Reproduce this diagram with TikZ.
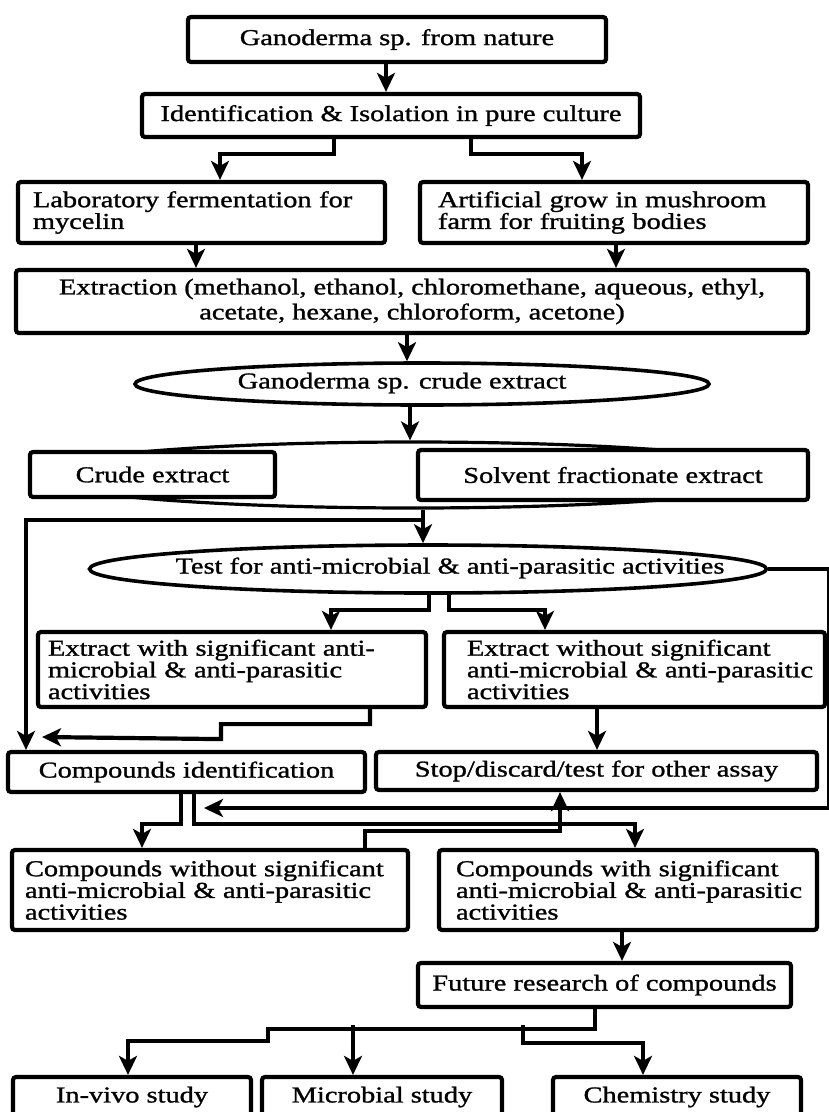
\documentclass[tikz,border=0pt]{standalone}
\usepackage{fontspec}
\setmainfont{Liberation Serif}[FakeStretch=1.25,FakeBold=1.2]
\usetikzlibrary{arrows.meta,shapes.geometric}
\begin{document}
\begin{tikzpicture}[x=1pt,y=-1pt,
  font=\fontsize{22.7}{21.7}\selectfont,
  box/.style={draw,line width=4.2pt,rounded corners=3pt,fill=white,inner sep=0pt},
  lbox/.style={box,align=left},
  ell/.style={draw,ellipse,line width=3.6pt,fill=white,inner sep=0pt},
  conn/.style={line width=4.2pt},
  arr/.style={conn,-{Stealth[length=19pt,width=18pt,inset=5pt]}},
]
\useasboundingbox (0,0) rectangle (829,1112);
\clip (0,0) rectangle (829,1112);
\fill[white] (0,0) rectangle (829,1112);

% nodes
\node[box,minimum width=418pt,minimum height=45pt] (n1) at (397,39.5) {Ganoderma sp. from nature};
\node[box,minimum width=498pt,minimum height=43pt] (n2) at (391,115.5) {Identification \& Isolation in pure culture};
\node[lbox,text width=337pt,inner xsep=15pt,minimum height=61pt] (n3) at (201.5,212.5) {\mbox{Laboratory fermentation for}\\mycelin};
\node[lbox,text width=352pt,inner xsep=18pt,minimum height=61pt] (n4) at (614,212.5) {\mbox{Artificial grow in mushroom}\\\mbox{farm for fruiting bodies}};
\node[box,minimum width=792pt,minimum height=63pt,align=center,font=\fontsize{22.7}{25}\selectfont] (n5) at (412,301.5) {\mbox{Extraction (methanol, ethanol, chloromethane, aqueous, ethyl,}\\\mbox{acetate, hexane, chloroform, acetone)}};

\node[ell,minimum width=574pt,minimum height=42pt] (e1) at (422,384) {};
\node (t1) at (402,383) {Ganoderma sp. crude extract};

\node[ell,line width=3.2pt,minimum width=760pt,minimum height=66pt] (e0) at (413,475) {};
\node[box,minimum width=245pt,minimum height=45pt] (n6) at (152.5,474.5) {Crude extract};
\node[box,minimum width=390pt,minimum height=50pt] (n7) at (613,475) {Solvent fractionate extract};

\node[ell,minimum width=677pt,minimum height=48pt] (e2) at (428,569) {};
\node (t2) at (450,568) {Test for anti-microbial \& anti-parasitic activities};

\node[lbox,text width=368pt,inner xsep=10pt,minimum height=75pt] (n8) at (232,669.5) {\mbox{Extract with significant anti-}\\\mbox{microbial \& anti-parasitic}\\activities};
\node[lbox,text width=335pt,inner xsep=23pt,minimum height=75pt] (n9) at (634.5,669.5) {\mbox{Extract without significant}\\\mbox{anti-microbial \& anti-parasitic}\\activities};

\node[box,minimum width=357pt,minimum height=40pt] (n10) at (186.5,772) {Compounds identification};
\node[box,minimum width=441pt,minimum height=38pt] (n11) at (596.5,771) {Stop/discard/test for other assay};

\node[lbox,text width=370pt,inner xsep=13pt,minimum height=80pt] (n12) at (210,890) {\mbox{Compounds without significant}\\\mbox{anti-microbial \& anti-parasitic}\\activities};
\node[lbox,text width=344pt,inner xsep=17pt,minimum height=80pt] (n13) at (628,890) {\mbox{Compounds with significant}\\\mbox{anti-microbial \& anti-parasitic}\\activities};

\node[box,minimum width=373pt,minimum height=44pt] (n14) at (604.5,985) {Future research of compounds};
\node[box,minimum width=238pt,minimum height=40pt] (n15) at (132,1097) {In-vivo study};
\node[box,minimum width=240pt,minimum height=40pt] (n16) at (382,1097) {Microbial study};
\node[box,minimum width=248pt,minimum height=40pt] (n17) at (677,1097) {Chemistry study};

\coordinate (tipL) at (42,737);
\coordinate (tipR) at (204,808);

% connectors
\draw[arr] ([xshift=-11pt]n1.south) -- ([xshift=-5pt]n2.north);
\draw[arr] ([xshift=-57pt]n2.south) -- ++(0,15) -| ([xshift=18.5pt]n3.north);
\draw[arr] ([xshift=80pt]n2.south) -- ++(0,15) -| ([xshift=-32pt]n4.north);
\draw[arr] ([xshift=-5.5pt]n3.south) -- ([xshift=-216pt]n5.north);
\draw[arr] ([xshift=2pt]n4.south) -- ([xshift=204pt]n5.north);
\draw[arr] ([xshift=-5pt]n5.south) -- ([xshift=-15pt]e1.north);
\draw[arr] ([xshift=-12pt]e1.south) -- ([xshift=-3pt]e0.north);
\draw[arr] ([xshift=10pt]e0.south) -- ([xshift=-5pt]e2.north);
\draw[arr] ([xshift=10pt]e0.south) -- ++(0,10) -| ([xshift=-160.5pt]n10.north);
\draw[arr] ([xshift=1pt]e2.south) -- ++(0,15) -| ([xshift=99pt]n8.north);
\draw[arr] ([xshift=21pt]e2.south) -- ++(0,15) -| ([xshift=-89.5pt]n9.north);
\draw[arr] (e2.east) -- ++(60.5,0) |- (tipR);
\draw[arr] ([xshift=138pt]n8.south) -- ++(0,15) -| ++(-149,15) -- (tipL);
\draw[arr] ([xshift=-37.5pt]n9.south) -- ([xshift=0.5pt]n11.north);
\draw[arr] ([xshift=-5.5pt]n10.south) -- ++(0,30) -| ([xshift=-68pt]n12.north);
\draw[arr] ([xshift=7.5pt]n10.south) -- ++(0,30) -| ([xshift=7pt]n13.north);
\draw[arr] ([xshift=155pt]n12.north) -- ++(0,-17) -| ([xshift=-36.5pt]n11.south);
\draw[arr] ([xshift=-6pt]n13.south) -- ([xshift=17.5pt]n14.north);
\draw[arr] ([xshift=-9.5pt]n14.south) -- ++(0,20) -| ++(-327,12) -| ([xshift=-4pt]n15.north);
\draw[arr] ([xshift=-29pt,yshift=50pt]n16.north) -- ([xshift=-29pt]n16.north);
\draw[arr] ([xshift=-154pt,yshift=50pt]n17.north) -- ++(0,18) -| ([xshift=-34pt]n17.north);
\end{tikzpicture}
\end{document}
